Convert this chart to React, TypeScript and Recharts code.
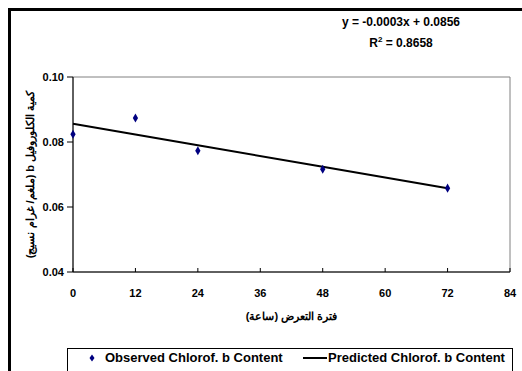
import React from "react";
import {
  ComposedChart,
  Scatter,
  Line,
  XAxis,
  YAxis,
  ZAxis,
  ReferenceArea,
  Label,
} from "recharts";

// values
const hours = [0, 12, 24, 48, 72];
const observed = [0.0824, 0.0874, 0.0773, 0.0716, 0.0658];
const predicted = [0.0856, 0.0823, 0.079, 0.0724, 0.0658];

const xTicks = [0, 12, 24, 36, 48, 60, 72, 84];
const yTicks = [0.04, 0.06, 0.08, 0.1];

const xTitle = "فترة التعرض (ساعة)";
const yTitle = "كمية الكلوروفيل b  (ملغم/ غرام نسيج)";
const observedName = "Observed Chlorof. b Content";
const predictedName = "Predicted Chlorof. b Content";
const equation = "y = -0.0003x + 0.0856";
const rSquared = "0.8658";

const FONT = "'Liberation Sans', Arial, sans-serif";

const observedData = hours.map((h, i) => ({ x: h, y: observed[i] }));
const predictedData = hours.map((h, i) => ({ x: h, y: predicted[i] }));

const tickStyle = {
  fontFamily: FONT,
  fontSize: 11,
  fontWeight: 700,
  fill: "#000",
};

const YTitle = ({ viewBox }: any) => {
  const cx = 30;
  const cy = viewBox.y + viewBox.height / 2;
  return (
    <text
      x={cx}
      y={cy}
      transform={`rotate(-90 ${cx} ${cy})`}
      textAnchor="middle"
      dominantBaseline="central"
      direction="rtl"
      style={{ fontFamily: FONT, fontSize: 11, fontWeight: 700, direction: "rtl" }}
      fill="#000"
    >
      {yTitle}
    </text>
  );
};

const App = () => {
  return (
    <div
      style={{
        position: "absolute",
        left: 0,
        top: 0,
        width: 522,
        height: 371,
        overflow: "hidden",
        background: "#fff",
        fontFamily: FONT,
      }}
    >
      {/* outer chart frame, runs off the right and bottom */}
      <div
        style={{
          position: "absolute",
          left: 8,
          top: 8,
          width: 540,
          height: 400,
          border: "3px solid #000",
          boxSizing: "border-box",
        }}
      />

      <ComposedChart
        width={522}
        height={371}
        margin={{ top: 77, right: 12, bottom: 49, left: 0 }}
        style={{ position: "absolute", left: 0, top: 0 }}
      >
        <XAxis
          type="number"
          dataKey="x"
          domain={[0, 84]}
          ticks={xTicks}
          height={50}
          stroke="#000"
          tickSize={-4}
          tickMargin={21}
          tick={tickStyle}
          tickLine={{ stroke: "#000" }}
        >
          <Label
            value={xTitle}
            position="insideBottom"
            offset={2}
            style={{ fontFamily: FONT, fontSize: 11, fontWeight: 700, fill: "#000", direction: "rtl" }}
          />
        </XAxis>
        <YAxis
          type="number"
          dataKey="y"
          domain={[0.04, 0.1]}
          ticks={yTicks}
          width={73}
          stroke="#000"
          tickSize={6}
          tickMargin={3}
          tick={tickStyle}
          tickFormatter={(v: number) => v.toFixed(2)}
        >
          <Label content={YTitle} />
        </YAxis>
        <ZAxis range={[24, 24]} />
        <ReferenceArea
          x1={0}
          x2={84}
          y1={0.04}
          y2={0.1}
          fill="none"
          stroke="#808080"
          strokeWidth={1}
          fillOpacity={0}
        />
        <Line
          data={predictedData}
          dataKey="y"
          stroke="#000"
          strokeWidth={2}
          dot={false}
          activeDot={false}
          isAnimationActive={false}
          name={predictedName}
        />
        <Scatter
          data={observedData}
          dataKey="y"
          fill="#000080"
          shape="diamond"
          isAnimationActive={false}
          name={observedName}
        />
      </ComposedChart>

      {/* trendline equation */}
      <div
        style={{
          position: "absolute",
          left: 301,
          top: 15,
          width: 200,
          textAlign: "center",
          fontSize: 12,
          fontWeight: 700,
          lineHeight: "14px",
          color: "#000",
        }}
      >
        {equation}
      </div>
      <div
        style={{
          position: "absolute",
          left: 301,
          top: 36,
          width: 200,
          textAlign: "center",
          fontSize: 12,
          fontWeight: 700,
          lineHeight: "14px",
          color: "#000",
        }}
      >
        R<sup style={{ fontSize: 8, verticalAlign: "5px", lineHeight: 0 }}>2</sup> = {rSquared}
      </div>

      {/* legend */}
      <div
        style={{
          position: "absolute",
          left: 67,
          top: 348,
          width: 446,
          height: 30,
          border: "1px solid #000",
          boxSizing: "border-box",
          background: "#fff",
        }}
      >
        <svg
          width={12}
          height={12}
          style={{ position: "absolute", left: 18, top: 3 }}
        >
          <polygon points="6,2.5 8.5,6 6,9.5 3.5,6" fill="#000080" />
        </svg>
        <div
          style={{
            position: "absolute",
            left: 37,
            top: 1,
            fontSize: 13,
            fontWeight: 700,
            lineHeight: "16px",
            whiteSpace: "nowrap",
          }}
        >
          {observedName}
        </div>
        <div
          style={{
            position: "absolute",
            left: 235,
            top: 8,
            width: 24,
            height: 2,
            background: "#000",
          }}
        />
        <div
          style={{
            position: "absolute",
            left: 260,
            top: 1,
            fontSize: 13,
            fontWeight: 700,
            lineHeight: "16px",
            whiteSpace: "nowrap",
          }}
        >
          {predictedName}
        </div>
      </div>
    </div>
  );
};

export default App;
